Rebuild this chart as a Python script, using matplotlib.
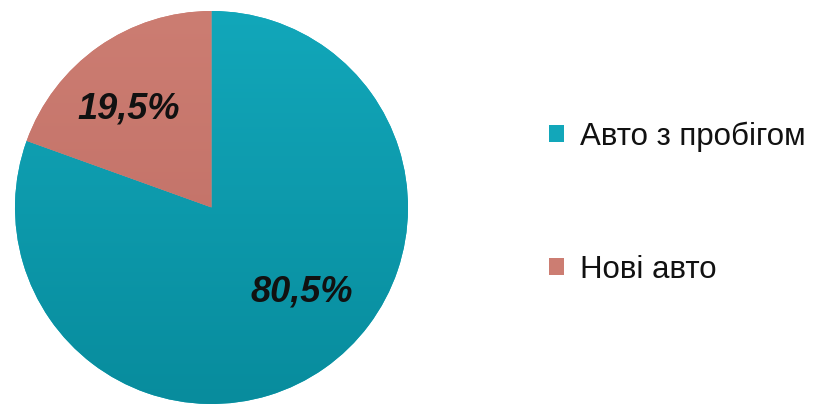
import numpy as np
import matplotlib.pyplot as plt
from matplotlib.colors import LinearSegmentedColormap

labels = ["Авто з пробігом", "Нові авто"]
shares = [80.5, 19.5]
share_text = ["80,5%", "19,5%"]
top_colors = ["#12a7ba", "#cc7d72"]
bottom_colors = ["#088c9d", "#be6c63"]

plt.rcParams['font.family'] = ['Liberation Sans', 'DejaVu Sans']

fig = plt.figure(figsize=(8.21, 4.08), dpi=100)
ax = fig.add_axes([15 / 821, 3 / 408, 393 / 821, 395 / 408])

wedges, _ = ax.pie(shares, startangle=90, counterclock=False,
                   colors=top_colors, radius=1,
                   wedgeprops=dict(linewidth=0))

# soft vertical shading inside each slice
grad = np.linspace(0, 1, 256).reshape(-1, 1)
for w, c0, c1 in zip(wedges, top_colors, bottom_colors):
    cmap = LinearSegmentedColormap.from_list("shade", [c0, c1])
    im = ax.imshow(grad, cmap=cmap, extent=(-1, 1, -1, 1), origin="upper",
                   aspect="auto", zorder=w.get_zorder() + 0.1)
    im.set_clip_path(w)

# percentage labels inside the slices
label_pos = [(0.46, -0.431), (-0.424, 0.503)]
for (x, y), t in zip(label_pos, share_text):
    ax.text(x, y, t, ha="center", va="center", fontsize=26,
            fontweight="bold", fontstyle="italic", color="#111111", zorder=5)

ax.set_xlim(-1, 1)
ax.set_ylim(-1, 1)
ax.set_aspect("equal")
ax.axis("off")

fig.legend(wedges, labels, loc="center left",
           bbox_to_anchor=(521 / 821, 1 - 203 / 408), frameon=False,
           fontsize=22.5, handlelength=0.48, handleheight=0.48,
           handletextpad=0.5, labelspacing=3.3, labelcolor="#111111")

fig.savefig("out.png", dpi=100)
